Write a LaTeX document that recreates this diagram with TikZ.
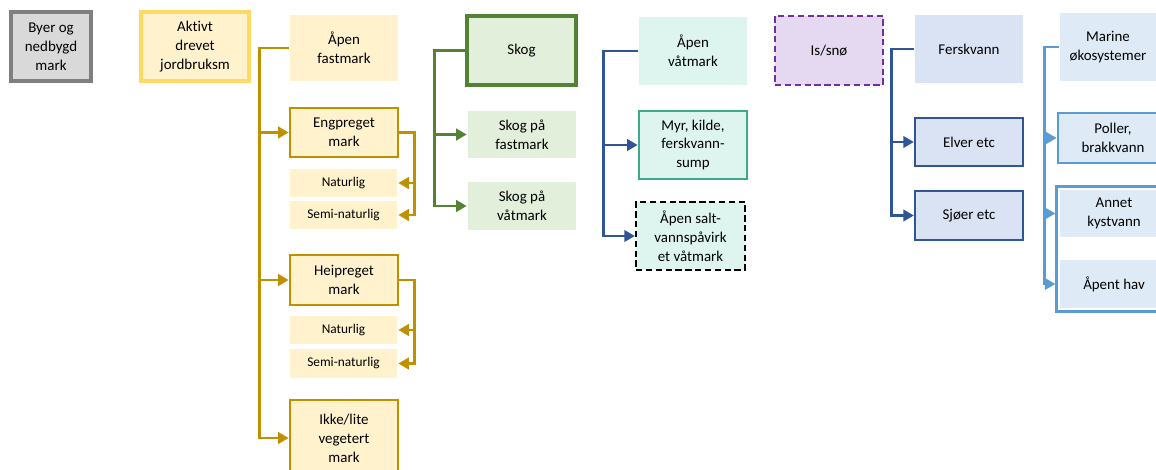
\documentclass[tikz,border=0pt]{standalone}
\usepackage{fontspec}
\setmainfont[Ligatures=NoCommon]{Carlito}
\usepackage{xcolor}
\usetikzlibrary{arrows.meta, positioning, fit}
\definecolor{greyfill}{HTML}{D9D9D9}
\definecolor{greyline}{HTML}{7F7F7F}
\definecolor{agrifill}{HTML}{FFF2CC}
\definecolor{agriline}{HTML}{FFD966}
\definecolor{goldline}{HTML}{BF9000}
\definecolor{forestfill}{HTML}{E2EFDA}
\definecolor{forestline}{HTML}{548235}
\definecolor{wetfill}{HTML}{DEF5EF}
\definecolor{myrline}{HTML}{3DA88A}
\definecolor{darkblue}{HTML}{2F5597}
\definecolor{icefill}{HTML}{E5D8F1}
\definecolor{iceline}{HTML}{7030A0}
\definecolor{freshfill}{HTML}{DAE3F3}
\definecolor{seafill}{HTML}{DEEBF7}
\definecolor{sealine}{HTML}{5B9BD5}

\begin{document}
\begin{tikzpicture}[
  x=0.2mm, y=-0.2mm,
  font=\fontsize{8.5}{10.8}\selectfont,
  wd/.style={minimum width=#1*0.2mm},
  ht/.style={minimum height=#1*0.2mm},
  box/.style={wd=108, align=center, inner sep=1pt, line width=1.5pt},
  grey/.style={box, fill=greyfill, draw=greyline, line width=1.8pt},
  agri/.style={box, fill=agrifill, draw=agriline, line width=1.8pt},
  gold/.style={box, fill=agrifill},
  goldb/.style={gold, draw=goldline},
  goldsub/.style={gold, wd=107, font=\fontsize{7.6}{9}\selectfont},
  forest/.style={box, fill=forestfill},
  wet/.style={box, fill=wetfill},
  dashline/.style={dash pattern=on 3.6pt off 2pt},
  ice/.style={box, fill=icefill, draw=iceline, dashline, line width=1.3pt},
  fresh/.style={box, fill=freshfill},
  sea/.style={box, fill=seafill},
  link/.style={line width=1.6pt, -{Triangle[length=6pt, width=6.5pt]}},
]
\useasboundingbox (0,0) rectangle (1156,470);
\clip (0,0) rectangle (1156,470);

% Top row
\node[grey, wd=80, ht=69] (byer) at (51,46.5) {Byer og\\nedbygd\\mark};
\node[agri, ht=69] (aktivt) at (195,46.5) {Aktivt\\drevet\\jordbruksm};
\node[gold, ht=66] (apenfast) at (344,48) {Åpen\\fastmark};
\node[forest, draw=forestline, line width=1.8pt, wd=109, ht=69] (skog) at (521.5,50.5) {Skog};
\node[wet, ht=68] (apenvat) at (693,51) {Åpen\\våtmark};
\node[ice, ht=69] (is) at (829,50.5) {Is/snø};
\node[fresh, ht=68] (fersk) at (969,49) {Ferskvann};
\node[sea, wd=96, ht=68] (marine) at (1108,47) {Marine\\økosystemer};

% Open dry land
\node[goldb, ht=49] (eng) at (344,132.5) {Engpreget\\mark};
\node[goldsub, ht=28] (engnat) at (343.5,183) {Naturlig};
\node[goldsub, ht=28] (engsemi) at (343.5,215) {Semi-naturlig};
\node[goldb, ht=50] (hei) at (344,280) {Heipreget\\mark};
\node[goldsub, ht=28] (heinat) at (343.5,330) {Naturlig};
\node[goldsub, ht=29] (heisemi) at (343.5,363.5) {Semi-naturlig};
\node[goldb, ht=76] (ikke) at (344,438) {Ikke/lite\\vegetert\\mark};

% Forest
\node[forest, ht=47] (skogfast) at (522,134.5) {Skog på\\fastmark};
\node[forest, ht=48] (skogvat) at (522,206) {Skog på\\våtmark};

% Wetland
\node[wet, draw=myrline, ht=68] (myr) at (693,145) {Myr, kilde,\\ferskvann-\\sump};
\node[wet, draw=black, dashline, line width=1.3pt, wd=109, ht=68] (salt) at (690.5,236) {Åpen salt-\\vannspåvirk\\et våtmark};

% Fresh water
\node[fresh, draw=darkblue, line width=1.3pt, ht=48] (elver) at (969,142) {Elver etc};
\node[fresh, draw=darkblue, line width=1.3pt, ht=49] (sjoer) at (969,215.5) {Sjøer etc};

% Marine
\node[sea, draw=sealine, wd=110, ht=50] (poller) at (1113,138) {Poller,\\brakkvann};
\node[sea, ht=47] (annet) at (1114,213.5) {Annet\\kystvann};
\node[sea, ht=48] (hav) at (1114,284) {Åpent hav};
\node[draw=sealine, line width=1.5pt, inner sep=0.4mm, fit=(annet)(hav)] (kyst) {};

% Connectors
\foreach \t in {eng,hei,ikke}
  \draw[link, goldline] (apenfast.west) -- ++(-29,0) |- (\t.west);
\foreach \t in {engnat,engsemi}
  \draw[link, goldline] (eng.east) -- ++(15,0) |- (\t.east);
\foreach \t in {heinat,heisemi}
  \draw[link, goldline] (hei.east) -- ++(15,0) |- (\t.east);
\foreach \t in {skogfast,skogvat}
  \draw[link, forestline] (skog.west) -- ++(-31,0) |- (\t.west);
\foreach \t in {myr,salt}
  \draw[link, darkblue] (apenvat.west) -- ++(-34,0) |- (\t.west);
\foreach \t in {elver,sjoer}
  \draw[link, darkblue] (fersk.west) -- ++(-22,0) |- (\t.west);
\draw[link, sealine] (marine.west) -- ++(-14,0) |- (poller.west);
\foreach \t in {annet,hav}
  \draw[link, sealine] (marine.west) -- ++(-14,0) |- (kyst.west |- \t.west);
\end{tikzpicture}
\end{document}
